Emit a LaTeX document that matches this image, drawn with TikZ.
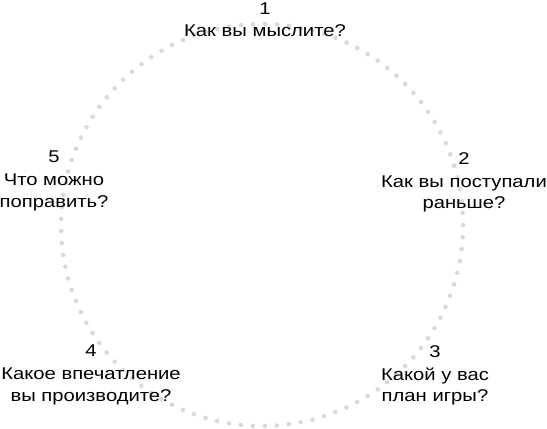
\documentclass[tikz,border=0pt]{standalone}
\usepackage{fontspec}
\setmainfont{Liberation Sans}[FakeStretch=1.19]
\usepackage{tikz}

\begin{document}
\begin{tikzpicture}[x=1pt,y=1pt,
	lbl/.style={align=center,anchor=north,inner sep=0pt,font=\fontsize{17}{21.5}\selectfont},
	dotline/.style={black!15,line width=4.6pt,line cap=round,dash pattern=on 0pt off 12.028pt}]
			\useasboundingbox (0,0) rectangle (547,-429);
			\coordinate (c) at (262,-225);
			\draw[dotline] (c) circle (201);
			\node[lbl] (s1) at (265,-3) {1\\[0pt]Как вы мыслите?};
			\node[lbl] (s2) at (464,-152) {2\\[1.5pt]Как вы поступали\\раньше?};
			\node[lbl] (s3) at (435,-345) {3\\[1.5pt]Какой у вас\\план игры?};
			\node[lbl] (s4) at (91,-345) {4\\[1.5pt]Какое впечатление\\вы производите?};
			\node[lbl] (s5) at (54,-151) {5\\[1.5pt]Что можно\\поправить?};
			\end{tikzpicture}
\end{document}
